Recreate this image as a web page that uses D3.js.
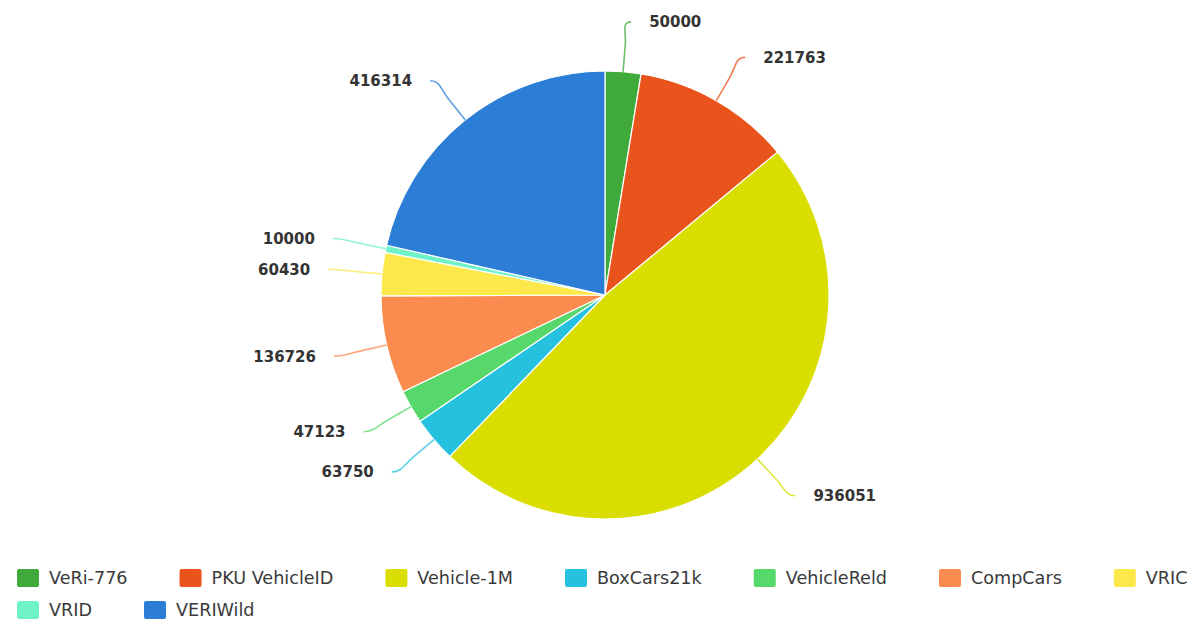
<!DOCTYPE html>
<html>
<head>
<meta charset="utf-8">
<script src="https://cdn.jsdelivr.net/npm/d3@7"></script>
<style>
  html, body { margin: 0; padding: 0; background: #fff; }
  svg { display: block; }
</style>
</head>
<body>
<svg id="chart" width="1192" height="627"></svg>
<script>
const categories = ["VeRi-776", "PKU VehicleID", "Vehicle-1M", "BoxCars21k", "VehicleReId", "CompCars", "VRIC", "VRID", "VERIWild"];
const legendLabels = ["VeRi-776", "PKU VehicleID", "Vehicle-1M", "BoxCars21k", "VehicleReld", "CompCars", "VRIC", "VRID", "VERIWild"];
const values = [50000, 221763, 936051, 63750, 47123, 136726, 60430, 10000, 416314];
const colors = ["#3fa93a", "#e9541c", "#d9de00", "#25c1df", "#57d86a", "#fb8b4e", "#fde84c", "#6ff2c8", "#2b7dd6"];

const svg = d3.select("#chart");
const W = 1192, H = 627;
const cx = 605, cy = 295, r = 224, labelDist = 50;

const data = categories.map((c, i) => ({ name: c, legend: legendLabels[i], value: values[i], color: colors[i] }));

const pie = d3.pie().value(d => d.value).sort(null);
const arcs = pie(data);
const arc = d3.arc().innerRadius(0).outerRadius(r);

const g = svg.append("g").attr("transform", `translate(${cx},${cy})`);

g.selectAll("path.slice").data(arcs).enter().append("path")
  .attr("class", "slice")
  .attr("d", arc)
  .attr("fill", d => d.data.color)
  .attr("stroke", "#ffffff")
  .attr("stroke-width", 1.2)
  .attr("stroke-linejoin", "round");

// data labels with connectors
const R = r + labelDist;
const labels = arcs.map(d => {
  const a = (d.startAngle + d.endAngle) / 2;
  const side = Math.sin(a) >= 0 ? 1 : -1;
  return { d, a, side, y: -R * Math.cos(a) };
});

// simple overlap avoidance per side
[1, -1].forEach(s => {
  const L = labels.filter(l => l.side === s).sort((p, q) => p.y - q.y);
  for (let i = 1; i < L.length; i++) {
    if (L[i].y - L[i - 1].y < 24) L[i].y = L[i - 1].y + 24;
  }
});

labels.forEach(l => {
  const a = l.a, s = l.side;
  const p0 = [r * Math.sin(a), -r * Math.cos(a)];
  const p1 = [(r + labelDist * 0.55) * Math.sin(a), -(r + labelDist * 0.55) * Math.cos(a)];
  const dy = Math.max(-R, Math.min(R, l.y));
  const ex = s * Math.sqrt(Math.max(0, R * R - dy * dy)) + s * 4;
  const ey = l.y;
  const p2 = [(r + labelDist * 0.8) * Math.sin(a), -(r + labelDist * 0.8) * Math.cos(a)];
  const c2 = [ex - s * 10, ey];
  const path = d3.path();
  path.moveTo(p0[0], p0[1]);
  path.lineTo(p1[0], p1[1]);
  path.bezierCurveTo(p2[0], p2[1], c2[0], c2[1], ex, ey);
  g.append("path")
    .attr("d", path.toString())
    .attr("fill", "none")
    .attr("stroke", l.d.data.color)
    .attr("stroke-width", 1.6)
    .attr("stroke-opacity", 0.75);
  g.append("text")
    .attr("x", ex + s * 18)
    .attr("y", ey)
    .attr("dy", "0.36em")
    .attr("text-anchor", s > 0 ? "start" : "end")
    .attr("font-family", "DejaVu Sans, sans-serif")
    .attr("font-weight", "bold")
    .attr("font-size", 15)
    .attr("fill", "#333")
    .text(l.d.data.value);
});

// legend
const legend = svg.append("g");
const sq = 22, sqH = 18, textGap = 10, itemDist = 52, startX = 17;
const rowY = [578, 610];
let x = startX, row = 0;
data.forEach(d => {
  const item = legend.append("g");
  const t = item.append("text")
    .attr("font-family", "DejaVu Sans, sans-serif")
    .attr("font-size", 17.6)
    .attr("fill", "#3a3a3a")
    .attr("dy", "0.36em")
    .text(d.legend);
  const tw = t.node().getComputedTextLength();
  const w = sq + textGap + tw;
  if (x + w > W && x > startX) { row++; x = startX; }
  item.append("rect")
    .attr("x", x).attr("y", rowY[row] - sqH / 2)
    .attr("width", sq).attr("height", sqH)
    .attr("rx", 2)
    .attr("fill", d.color);
  t.attr("x", x + sq + textGap).attr("y", rowY[row]);
  x += w + itemDist;
});
</script>
</body>
</html>
